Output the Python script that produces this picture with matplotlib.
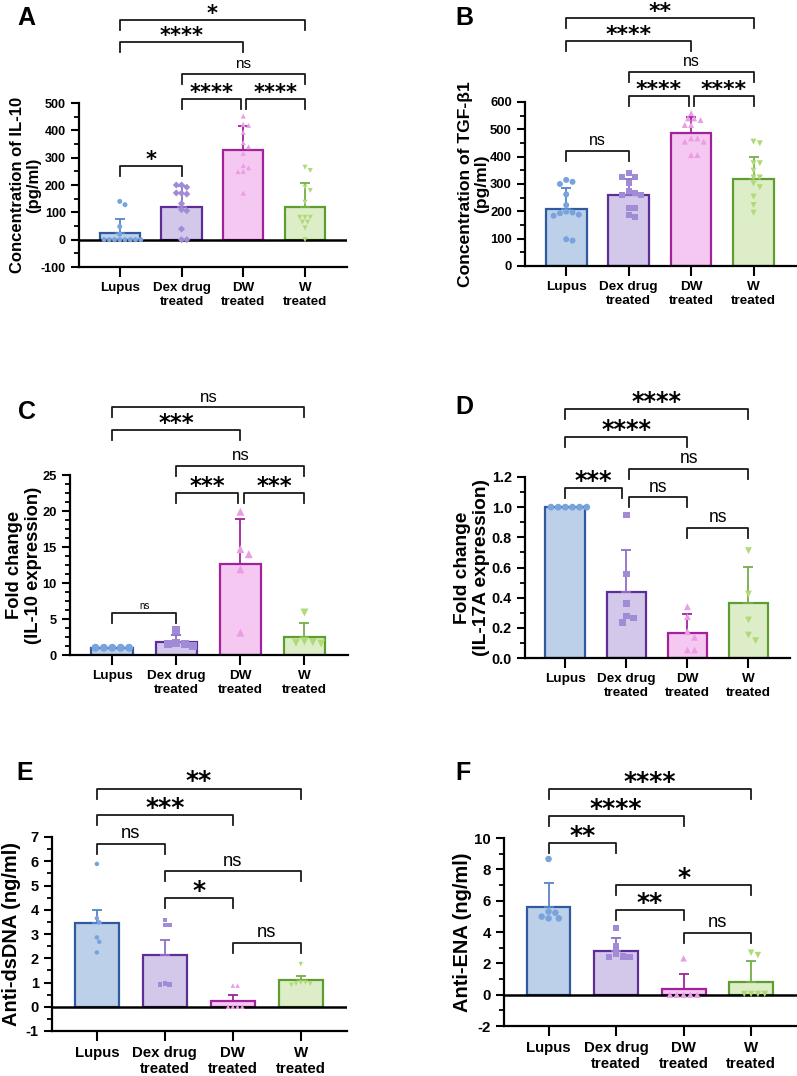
import matplotlib.pyplot as plt
import numpy as np
from matplotlib.ticker import MultipleLocator, AutoMinorLocator

plt.rcParams['font.family'] = ['Liberation Sans', 'DejaVu Sans']
plt.rcParams['axes.unicode_minus'] = False

groups = ['Lupus', 'Dex drug\ntreated', 'DW\ntreated', 'W\ntreated']

# A - IL-10 (ELISA)
a_mean = [25, 120, 328, 120]
a_sd = [52, 78, 89, 86]
a_pts = [[140, 128, 48, 20, 0, 0, 0, 0, 0, 0, 0, 0],
         [200, 192, 200, 170, 167, 171, 132, 110, 106, 39, 0, 0],
         [452, 422, 418, 393, 355, 340, 316, 271, 263, 250, 249, 170],
         [265, 253, 192, 180, 137, 82, 82, 82, 64, 64, 43, 0]]
a_sig = [(0, 1, 268, '*'), (1, 2, 515, '****'), (2, 3, 515, '****'),
         (1, 3, 607, 'ns'), (0, 2, 723, '****'), (0, 3, 805, '*')]

# B - TGF-b1 (ELISA)
b_mean = [208, 260, 488, 318]
b_sd = [76, 58, 56, 82]
b_pts = [[315, 308, 300, 262, 223, 199, 196, 193, 188, 184, 98, 93],
         [341, 327, 324, 302, 276, 266, 260, 260, 211, 211, 187, 180],
         [559, 540, 540, 534, 516, 516, 467, 467, 455, 455, 406, 406],
         [455, 449, 376, 376, 349, 324, 324, 302, 288, 254, 223, 195]]
b_sig = [(0, 1, 421, 'ns'), (1, 2, 622, '****'), (2, 3, 622, '****'),
         (1, 3, 710, 'ns'), (0, 2, 823, '****'), (0, 3, 907, '**')]

# C - IL-10 expression
c_mean = [1.0, 1.8, 12.7, 2.5]
c_sd = [0, 1.0, 6.2, 1.9]
c_pts = [[1, 1, 1, 1, 1],
         [3.5, 1.7, 1.55, 1.5, 1.25],
         [19.9, 14.7, 14.0, 11.9, 3.1],
         [5.9, 1.9, 1.8, 1.7, 1.6]]
c_sig = [(0, 1, 5.8, 'ns'), (1, 2, 22.5, '***'), (2, 3, 22.5, '***'),
         (1, 3, 26.25, 'ns'), (0, 2, 31.25, '***'), (0, 3, 34.4, 'ns')]

# D - IL-17A expression
d_mean = [1.0, 0.436, 0.168, 0.363]
d_sd = [0, 0.278, 0.124, 0.242]
d_pts = [[1, 1, 1, 1, 1, 1],
         [0.948, 0.557, 0.362, 0.278, 0.265, 0.234],
         [0.34, 0.274, 0.175, 0.137, 0.053, 0.053],
         [0.712, 0.424, 0.252, 0.152, 0.115]]
d_sig = [(0, 1, 1.127, '***'), (1, 2, 1.067, 'ns'), (1, 3, 1.253, 'ns'),
         (2, 3, 0.862, 'ns'), (0, 2, 1.465, '****'), (0, 3, 1.65, '****')]

# E - anti-dsDNA
e_mean = [3.44, 2.15, 0.25, 1.09]
e_sd = [0.55, 0.6, 0.23, 0.18]
e_pts = [[5.89, 3.65, 3.48, 2.86, 2.68, 2.24],
         [3.58, 3.37, 3.37, 0.96, 0.92, 0.92],
         [0.87, 0.87, 0, 0, 0, 0],
         [1.76, 1.0, 1.0, 0.95, 0.95, 0.9]]
e_sig = [(0, 1, 6.73, 'ns'), (1, 3, 5.58, 'ns'), (1, 2, 4.5, '*'),
         (2, 3, 2.64, 'ns'), (0, 2, 7.9, '***'), (0, 3, 9.0, '**')]

# F - anti-ENA
f_mean = [5.58, 2.81, 0.34, 0.79]
f_sd = [1.57, 0.79, 0.98, 1.36]
f_pts = [[8.66, 5.3, 5.23, 4.98, 4.87, 4.87],
         [4.24, 3.06, 2.64, 2.43, 2.39, 2.39],
         [2.32, 0, 0, 0, 0, 0],
         [2.68, 2.53, 0.05, 0.05, 0.05, 0.05]]
f_sig = [(0, 1, 9.7, '**'), (0, 2, 11.4, '****'), (0, 3, 13.1, '****'),
         (1, 3, 7.0, '*'), (1, 2, 5.4, '**'), (2, 3, 3.96, 'ns')]

fills = ['#bdd0ea', '#d3c8ea', '#f5c8f1', '#ddedc8']
edges = ['#2f5a9e', '#5c2e96', '#a1229b', '#5e9e30']
dots = ['#78a3dc', '#a28bd6', '#ea9de5', '#afda76']
errc = ['#5585c8', '#8e70c8', '#a1229b', '#74ae48']

W, H = 797, 1076


def swarm(vals, ppu, d):
    placed, offs = [], []
    for v in vals:
        y = v * ppu
        for k in range(0, 40):
            o = ((k + 1) // 2) * d * 0.5 * (1 if k % 2 else -1)
            if all((o - px) ** 2 + (y - py) ** 2 >= (d * 0.95) ** 2 for px, py in placed):
                break
        placed.append((o, y))
        offs.append(o)
    return offs


def bracket(ax, x1, x2, y, label, drop, fs, small=False):
    ax.plot([x1, x1, x2, x2], [y - drop, y, y, y - drop], color='#1a1a1a',
            lw=1.3, clip_on=False, zorder=5)
    if label == 'ns':
        ax.annotate(label, ((x1 + x2) / 2, y), xytext=(0, 4 if not small else 3),
                    textcoords='offset points', ha='center', va='baseline',
                    fontsize=(7 if small else 11 * fs), annotation_clip=False)
    else:
        ax.annotate(label, ((x1 + x2) / 2, y), xytext=(0, 0),
                    textcoords='offset points', ha='center', va='baseline',
                    fontsize=15 * fs, fontweight='bold', family='DejaVu Sans',
                    annotation_clip=False)


def panel(rect, letter, ylabel, ylim, major, minor, mean, sd, pts, sig,
          fs, ylab_off, tick_fs, mk_px, dex_marker='s', zero=False, shifts=None):
    l, t, r, b = rect
    ax = fig.add_axes([l / W, 1 - b / H, (r - l) / W, (b - t) / H])
    x = np.arange(4)
    ax.set_xlim(-0.66, 3.68)
    ax.set_ylim(*ylim)
    ppu = (b - t) / (ylim[1] - ylim[0])
    cat_px = (r - l) / 4.34
    ax.bar(x, mean, width=0.65, color=fills, edgecolor=edges, linewidth=1.6, zorder=2)
    for i in range(4):
        if sd[i] > 0:
            ax.errorbar(x[i], mean[i], yerr=[[0], [sd[i]]], color=errc[i],
                        lw=1.3, capsize=3.5, capthick=1.3, zorder=3)
    markers = ['o', dex_marker, '^', 'v']
    s = (mk_px * 0.72) ** 2
    for i in range(4):
        offs = swarm(pts[i], ppu, mk_px * 1.05)
        xs = x[i] + np.array(offs) / cat_px
        ax.scatter(xs, pts[i], s=s, marker=markers[i], color=dots[i],
                   edgecolors='none', zorder=4, clip_on=False)
    if zero:
        ax.axhline(0, color='black', lw=1.8, zorder=3.5)
    drop = 10 / ppu
    for j, (x1, x2, y, lab) in enumerate(sig):
        dx1, dx2 = (shifts[j] if shifts else (0, 0))
        bracket(ax, x1 + dx1, x2 + dx2, y, lab, drop, fs,
                small=(letter == 'C' and j == 0))
    for sp in ['top', 'right']:
        ax.spines[sp].set_visible(False)
    for sp in ['left', 'bottom']:
        ax.spines[sp].set_linewidth(1.6)
    ax.yaxis.set_major_locator(MultipleLocator(major))
    ax.yaxis.set_minor_locator(AutoMinorLocator(minor))
    ax.tick_params(axis='y', which='major', length=6, width=1.5, labelsize=tick_fs[0])
    ax.tick_params(axis='y', which='minor', length=3.5, width=1.3)
    ax.tick_params(axis='x', length=7, width=1.5, labelsize=tick_fs[1])
    ax.set_xticks(x)
    ax.set_xticklabels(groups, linespacing=1.25)
    for tl in ax.get_xticklabels() + ax.get_yticklabels():
        tl.set_fontweight('bold')
    if major < 1:
        ax.yaxis.set_major_formatter(plt.FuncFormatter(lambda v, p: '%.1f' % v))
    ax.set_ylabel(ylabel, fontsize=12 * fs, fontweight='bold', linespacing=1.1,
                  va='center')
    ax.yaxis.set_label_coords(-ylab_off / (r - l), 0.5)
    return ax


fig = plt.figure(figsize=(W / 100, H / 100), dpi=100)

sh = [(0, 0), (0, -0.04), (0.05, 0), (0, 0), (0, 0), (0, 0)]
panel((79, 103, 347, 267), 'A', 'Concentration of IL-10\n(pg/ml)', (-100, 500), 100, 2,
      a_mean, a_sd, a_pts, a_sig, 1.0, 53, (9, 9.6), 5, dex_marker='D', zero=True, shifts=sh)
panel((525, 102, 796, 266), 'B', 'Concentration of TGF-β1\n(pg/ml)', (0, 600), 100, 2,
      b_mean, b_sd, b_pts, b_sig, 1.05, 51, (9.4, 9.7), 6, shifts=sh)
panel((70, 475, 348, 655), 'C', 'Fold change\n(IL-10 expression)', (0, 25), 5, 4,
      c_mean, c_sd, c_pts, c_sig, 1.1, 46, (9.3, 9.7), 8, shifts=sh)
shd = [(0, -0.07), (0.05, 0), (0.05, 0), (0, 0), (0, 0), (0, 0)]
panel((525, 477, 790, 658), 'D', 'Fold change\n(IL-17A expression)', (0, 1.2), 0.2, 2,
      d_mean, d_sd, d_pts, d_sig, 1.15, 53, (10.4, 9.7), 6.8, shifts=shd)
panel((52, 837, 347, 1031), 'E', 'Anti-dsDNA (ng/ml)', (-1, 7), 1, 2,
      e_mean, e_sd, e_pts, e_sig, 1.2, 40, (10.5, 10.8), 4.5, zero=True)
panel((504, 838, 797, 1026), 'F', 'Anti-ENA (ng/ml)', (-2, 10), 2, 2,
      f_mean, f_sd, f_pts, f_sig, 1.2, 42, (10.8, 10.8), 6.5, zero=True)

letters = [('A', 17, 6), ('B', 455, 6), ('C', 18, 400), ('D', 455, 395),
           ('E', 16, 761), ('F', 455, 761)]
for txt, lx, ly in letters:
    fig.text(lx / W, 1 - ly / H, txt, fontsize=18, fontweight='bold', va='top', ha='left')

fig.savefig('out.png', dpi=100)
